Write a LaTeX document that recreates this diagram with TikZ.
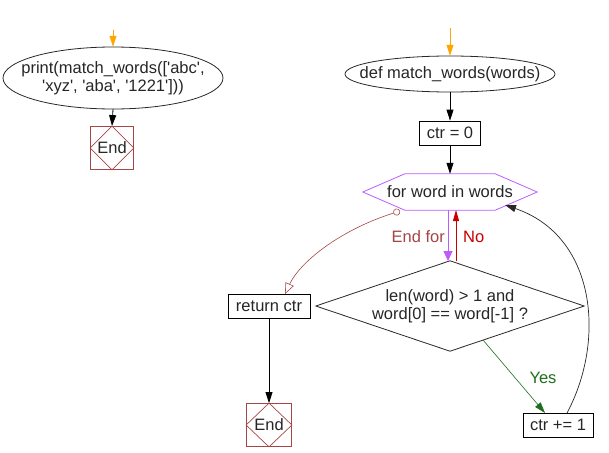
\documentclass[tikz,border=0pt]{standalone}
\usepackage{fontspec}
\setmainfont{Liberation Sans}[Ligatures=TeXOff]
\usetikzlibrary{arrows.meta,shapes.geometric}
\definecolor{startorange}{RGB}{255,165,0}
\definecolor{endred}{RGB}{165,70,70}
\definecolor{forpurple}{RGB}{190,90,255}
\definecolor{nored}{RGB}{200,0,0}
\definecolor{yesgreen}{RGB}{30,110,30}
\definecolor{linegray}{RGB}{40,40,40}
\tikzset{
  every node/.style={font=\fontsize{16.5}{18.5}\selectfont, text=black!85},
  ovaltext/.style={inner sep=0pt, align=center},
  ovalline/.style={draw=linegray, line width=0.8pt},
  procbox/.style={rectangle, draw=black, line width=0.8pt, inner sep=0pt, minimum height=24pt},
  endbox/.style={rectangle, draw=endred, line width=0.8pt, inner sep=0pt, minimum width=43pt, minimum height=43pt},
  flowarrow/.style={line width=0.8pt, -{Triangle[length=11pt,width=7pt]}},
  lbl/.style={inner sep=1pt},
}
\newcommand{\stopmark}[1]{\draw[endred, line width=0.7pt] (#1.north) -- (#1.west) -- (#1.south) -- (#1.east) -- cycle;}
\begin{document}
\begin{tikzpicture}[x=1pt,y=-1pt]
\useasboundingbox (0,0) rectangle (609,452);

% ---- left flow ----
\coordinate (s1) at (113,30);
\node[ovaltext, minimum width=220pt, minimum height=62pt] (print) at (113,78) {print(match\_words(['abc',\\'xyz', 'aba', '1221']))};
\draw[ovalline] (print) ellipse [x radius=110pt, y radius=31pt];
\node[endbox] (end1) at (112,148) {};
\stopmark{end1}
\node at (end1) {End};
\draw[startorange, flowarrow] (s1) -- (print.north);
\draw[flowarrow] (print.south) -- (end1.north);

% ---- right flow ----
\coordinate (s2) at (450,28);
\node[ovaltext, minimum width=210pt, minimum height=36pt] (def) at (450,74) {def match\_words(words)};
\draw[ovalline] (def) ellipse [x radius=105pt, y radius=18pt];
\node[procbox, minimum width=61pt] (ctr0) at (450,133) {ctr = 0};
\node[minimum width=174pt, minimum height=36pt, inner sep=0pt] (for) at (450,192) {for word in words};
\draw[forpurple, line width=0.8pt] (for.west) -- ([xshift=42pt]for.north west) -- ([xshift=-42pt]for.north east) -- (for.east) -- ([xshift=-42pt]for.south east) -- ([xshift=42pt]for.south west) -- cycle;
\node[minimum width=268pt, minimum height=90pt, inner sep=0pt, align=center] (cond) at (450,306) {len(word) > 1 and\\word[0] == word[-1] ?};
\draw[linegray, line width=0.8pt] (cond.north) -- (cond.east) -- (cond.south) -- (cond.west) -- cycle;
\node[procbox, minimum width=82pt] (ret) at (269,306) {return ctr};
\node[endbox, minimum width=45pt] (end2) at (269,425) {};
\stopmark{end2}
\node at (end2) {End};
\node[procbox, minimum width=70pt] (inc) at (558,425) {ctr += 1};

\coordinate (fordown) at (448,210);
\coordinate (condin) at (448,261);
\coordinate (condout) at (456,261);
\coordinate (forup) at (456,210);
\coordinate (forexit) at (400,211);
\coordinate (retin) at (285,294);
\coordinate (condyes) at (483,340);
\coordinate (incin) at (545,413);
\coordinate (incout) at (567,413);
\coordinate (forback) at (505,205);

\draw[startorange, flowarrow] (s2) -- (def.north);
\draw[flowarrow] (def.south) -- (ctr0.north);
\draw[flowarrow] (ctr0.south) -- (for.north);
\draw[forpurple, line width=0.8pt, -{Triangle[length=10pt,width=9pt]}] (fordown) -- (condin);
\draw[nored, line width=0.8pt, -{Triangle[length=11pt,width=6pt]}] (condout) -- (forup);
\draw[endred, line width=0.6pt, {Circle[open,length=7pt,width=7pt]}-{Triangle[open,length=11pt,width=9pt]}] (forexit) .. controls (340,230) and (300,262) .. (retin);
\draw[yesgreen, line width=0.6pt, -{Triangle[length=11pt,width=7pt]}] (condyes) -- (incin);
\draw[linegray, line width=0.7pt, -{Triangle[length=11pt,width=7pt]}] (incout) .. controls (606,340) and (596,236) .. (forback);
\draw[flowarrow] (ret.south) -- (end2.north);

\node[lbl, text=endred, anchor=east] (lend) at (446,237) {End for};
\node[lbl, text=nored, anchor=west] (lno) at (462,237) {No};
\node[lbl, text=yesgreen] (lyes) at (543,378) {Yes};
\end{tikzpicture}
\end{document}
